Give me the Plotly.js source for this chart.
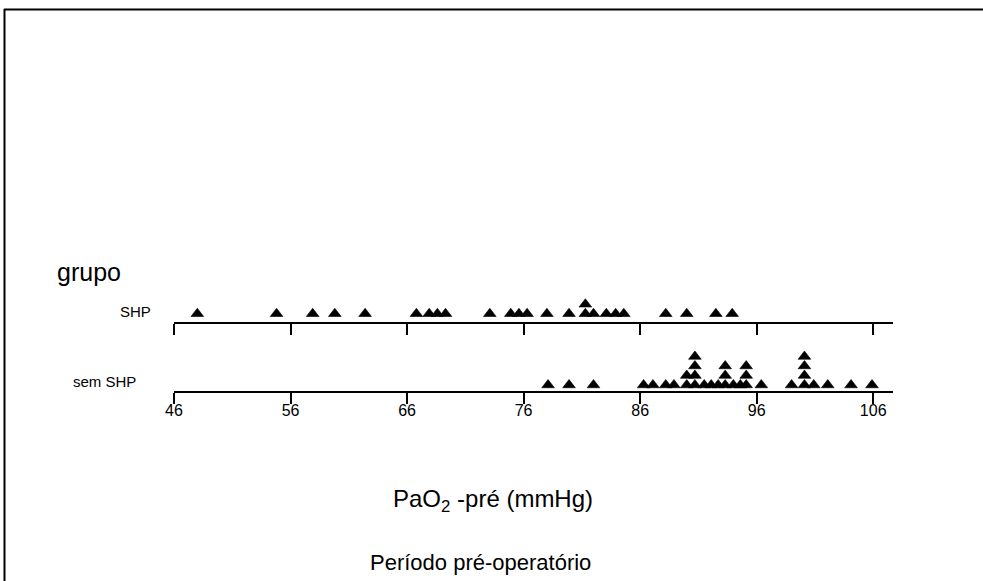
<!DOCTYPE html>
<html>
<head>
<meta charset="utf-8">
<script src="https://cdn.plot.ly/plotly-3.0.1.min.js"></script>
<style>html,body{margin:0;padding:0;background:#fff;}#chart{width:983px;height:581px;}</style>
</head>
<body>
<div id="chart"></div>
<script>
// ---- data ----
var groupLabels = ["SHP", "sem SHP"];
var shpValues = [48.0, 54.8, 57.9, 59.8, 62.4, 66.8, 67.9, 68.6, 69.3, 73.1, 74.9, 75.6, 76.3, 78.0, 79.9, 81.3, 81.3, 82.0, 83.1, 83.9, 84.6, 88.2, 90.0, 92.5, 93.9];
var semShpValues = [78.1, 79.9, 82.0, 86.3, 87.1, 88.2, 88.9, 90.0, 90.0, 90.7, 90.7, 90.7, 90.7, 91.5, 92.1, 92.7, 93.3, 93.3, 93.3, 94.0, 94.6, 95.1, 95.1, 95.1, 96.4, 99.0, 100.1, 100.1, 100.1, 100.1, 100.9, 102.1, 104.1, 105.9];
var tickValues = [46, 56, 66, 76, 86, 96, 106];
var tickLabels = ["46", "56", "66", "76", "86", "96", "106"];
var axisTitle = "PaO<sub>2</sub> -pré (mmHg)";
var groupTitle = "grupo";
var subTitle = "Período pré-operatório";

// stacking levels computed from repeated values (dot plot)
function stackLevels(vals) {
  var seen = {};
  return vals.map(function (v) {
    var k = v.toFixed(1);
    var lvl = seen[k] || 0;
    seen[k] = lvl + 1;
    return lvl;
  });
}

var W = 983, H = 581;
function py(px) { return 1 - px / H; }
function pxX(px) { return px / W; }

var FONT = 'Liberation Sans, Arial, sans-serif';

function triTrace(vals, xa, ya) {
  return {
    type: 'scatter',
    x: vals, y: stackLevels(vals), xaxis: xa, yaxis: ya,
    mode: 'markers',
    marker: {symbol: 'triangle-up', size: 11, color: '#000', line: {color: '#000', width: 0.6}},
    cliponaxis: false,
    hoverinfo: 'x',
    showlegend: false
  };
}

var traces = [
  triTrace(semShpValues, 'x', 'y'),
  triTrace(shpValues, 'x2', 'y2')
];

var xr = [46, 107.7];
var xdom = [pxX(174), pxX(893)];
var tickFont = {family: FONT, size: 16, color: '#000'};

var layout = {
  width: W, height: H,
  margin: {l: 0, r: 0, t: 0, b: 0},
  paper_bgcolor: '#fff', plot_bgcolor: 'rgba(0,0,0,0)',
  showlegend: false,
  xaxis: {
    domain: xdom, range: xr, anchor: 'y',
    showline: true, linecolor: '#000', linewidth: 2,
    ticks: 'outside', ticklen: 11, tickwidth: 2, tickcolor: '#000',
    tickvals: tickValues, ticktext: tickLabels, tickfont: tickFont,
    ticklabelstandoff: -7,
    showgrid: false, zeroline: false, fixedrange: true
  },
  xaxis2: {
    domain: xdom, range: xr, anchor: 'y2',
    showline: true, linecolor: '#000', linewidth: 2,
    ticks: 'outside', ticklen: 11, tickwidth: 2, tickcolor: '#000',
    tickvals: tickValues, showticklabels: false,
    showgrid: false, zeroline: false, fixedrange: true
  },
  yaxis: {
    domain: [py(391), py(334)], range: [-0.63, 5.37], anchor: 'x',
    visible: false, fixedrange: true
  },
  yaxis2: {
    domain: [py(322), py(284)], range: [-0.868, 3.132], anchor: 'x2',
    visible: false, fixedrange: true
  },
  annotations: [
    {text: groupTitle, xref: 'paper', yref: 'paper', x: pxX(55), y: py(272), xanchor: 'left', yanchor: 'middle', showarrow: false, font: {family: FONT, size: 25, color: '#000'}},
    {text: groupLabels[0], xref: 'paper', yref: 'paper', x: pxX(153), y: py(311), xanchor: 'right', yanchor: 'middle', showarrow: false, font: {family: FONT, size: 15, color: '#000'}},
    {text: groupLabels[1], xref: 'paper', yref: 'paper', x: pxX(138), y: py(381), xanchor: 'right', yanchor: 'middle', showarrow: false, font: {family: FONT, size: 15, color: '#000'}},
    {text: axisTitle, xref: 'paper', yref: 'paper', x: pxX(493), y: py(500), xanchor: 'center', yanchor: 'middle', showarrow: false, font: {family: FONT, size: 24, color: '#000'}},
    {text: subTitle, xref: 'paper', yref: 'paper', x: pxX(480), y: py(562), xanchor: 'center', yanchor: 'middle', showarrow: false, font: {family: FONT, size: 22, color: '#000'}}
  ],
  shapes: [
    {type: 'line', xref: 'paper', yref: 'paper', x0: pxX(4), x1: 1, y0: py(9.5), y1: py(9.5), line: {color: '#000', width: 2}},
    {type: 'line', xref: 'paper', yref: 'paper', x0: pxX(4.5), x1: pxX(4.5), y0: 0, y1: py(9), line: {color: '#000', width: 2}}
  ]
};

Plotly.newPlot('chart', traces, layout, {displayModeBar: false, staticPlot: true});
</script>
</body>
</html>
